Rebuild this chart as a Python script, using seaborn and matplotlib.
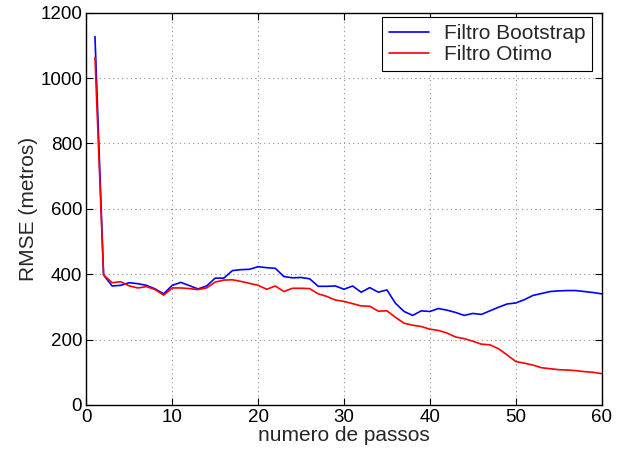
import matplotlib.pyplot as plt
import pandas as pd
import seaborn as sns

# Data
passos = list(range(1, 61))
bootstrap = [1127, 398, 364, 366, 374, 371, 366, 355, 340, 366,
             375, 365, 355, 364, 388, 388, 411, 414, 415, 423,
             420, 418, 393, 389, 390, 386, 363, 363, 364, 354,
             364, 345, 359, 345, 352, 311, 286, 274, 288, 286,
             295, 290, 283, 274, 280, 277, 288, 299, 309, 312,
             322, 335, 341, 347, 349, 350, 350, 347, 344, 340]
otimo = [1063, 398, 374, 377, 364, 358, 362, 353, 336, 358,
         358, 356, 353, 358, 376, 382, 383, 378, 372, 366,
         354, 364, 347, 357, 357, 356, 340, 332, 321, 317,
         310, 303, 302, 287, 288, 268, 250, 244, 240, 232,
         228, 220, 208, 203, 195, 186, 184, 172, 153, 133,
         128, 122, 114, 111, 108, 107, 105, 102, 100, 96]

df = pd.DataFrame({
    "passos": passos * 2,
    "rmse": bootstrap + otimo,
    "filtro": ["Filtro Bootstrap"] * 60 + ["Filtro Otimo"] * 60,
})

sns.set_style("ticks")
plt.rcParams['font.family'] = ['Liberation Sans', 'DejaVu Sans']

fig = plt.figure(figsize=(6.26, 4.53), dpi=100)
ax = fig.add_axes([0.138, 0.106, 0.823, 0.866])

sns.lineplot(data=df, x="passos", y="rmse", hue="filtro",
             palette={"Filtro Bootstrap": "#0000ff", "Filtro Otimo": "#ff0000"},
             linewidth=1.2, ax=ax)

ax.set_xlim(0, 60)
ax.set_ylim(0, 1200)
ax.set_xticks(range(0, 61, 10))
ax.set_yticks(range(0, 1201, 200))
ax.grid(True, linestyle=(0, (1, 3)), color='#909090', linewidth=0.8)
ax.tick_params(direction='in', top=True, right=True, labelsize=13.5,
               length=5, width=0.8, colors='black', pad=3)
for s in ax.spines.values():
    s.set_visible(True)
    s.set_color('black')
    s.set_linewidth(1.0)

ax.set_xlabel('numero de passos', fontsize=15, labelpad=0)
ax.set_ylabel('RMSE (metros)', fontsize=15, labelpad=2)

leg = ax.legend(loc='upper right', bbox_to_anchor=(0.982, 0.989),
                fontsize=15, frameon=True,
                fancybox=False, edgecolor='black', framealpha=1,
                borderaxespad=0, handlelength=1.9, borderpad=0.35,
                labelspacing=0.08, handletextpad=0.7)
leg.get_frame().set_linewidth(0.8)

fig.savefig('out.png', dpi=100, facecolor='white')
